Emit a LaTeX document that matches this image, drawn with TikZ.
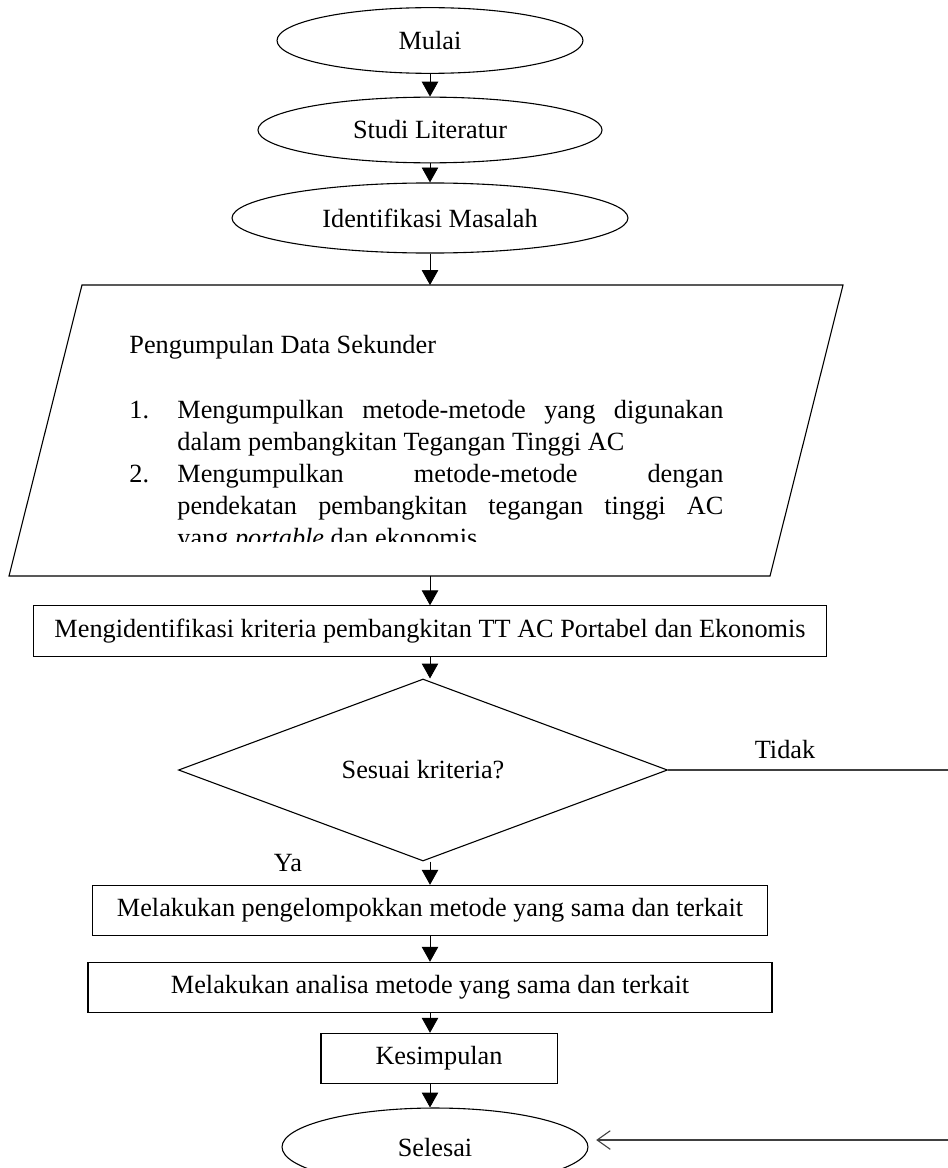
\documentclass[tikz,border=0pt]{standalone}
\usepackage{fontspec}
\setmainfont{Liberation Serif}
\usetikzlibrary{shapes.geometric, arrows.meta, positioning, calc}

\begin{document}
\begin{tikzpicture}[
    x=0.4566pt, y=-0.4566pt,
    font=\fontsize{12}{14.6}\selectfont,
    terminal/.style={draw, ellipse, line width=0.5pt, minimum width=#1, minimum height=30pt, inner sep=2pt},
    proses/.style={draw, rectangle, line width=0.5pt, minimum width=#1, minimum height=23pt, inner sep=2pt},
    arr/.style={-{Triangle[length=6.8pt, width=7.5pt]}, line width=0.4pt}
]
    \useasboundingbox (0,0) rectangle (948,1168);

    \node[terminal=139.7pt] (mulai) at (430,40.5) {Mulai};
    \node[terminal=157.1pt] (studi) at (430,130) {Studi Literatur};
    \node[terminal=180.8pt, minimum height=32pt] (identifikasi) at (430,218) {Identifikasi Masalah};

    % data sekunder (jajar genjang)
    \coordinate (sekunder-nw) at (82,285);
    \coordinate (sekunder-ne) at (843,285);
    \coordinate (sekunder-se) at (770,576);
    \coordinate (sekunder-sw) at (9,576);
    \draw[line width=0.5pt] (sekunder-nw) -- (sekunder-ne) -- (sekunder-se) -- (sekunder-sw) -- cycle;
    \begin{scope}
        \clip (0,285) rectangle (948,541);
        \node[anchor=base west, text width=271.2pt, align=justify, inner sep=0pt] (daftar) at (129,353) {%
            \hyphenpenalty=10000
            Pengumpulan Data Sekunder\par\vspace{15.5pt}
            \hangindent=21.9pt\hangafter=1\makebox[21.9pt][l]{1.}Mengumpulkan metode-metode yang digunakan\linebreak
            dalam pembangkitan Tegangan Tinggi AC\par
            \hangindent=21.9pt\hangafter=1\makebox[21.9pt][l]{2.}Mengumpulkan metode-metode dengan\linebreak
            pendekatan pembangkitan tegangan tinggi AC\linebreak
            yang \textit{portable} dan ekonomis\par};
    \end{scope}

    \node[proses=362.1pt] (kriteria) at (430,631) {Mengidentifikasi kriteria pembangkitan TT AC Portabel dan Ekonomis};
    \node[draw, diamond, aspect=2.69, minimum width=223.3pt, minimum height=83.1pt,
          inner sep=1pt, line width=0.5pt] (sesuai) at (423,770) {Sesuai kriteria?};
    \node[proses=308.2pt] (kelompok) at (430,910.5) {Melakukan pengelompokkan metode yang sama dan terkait};
    \node[proses=312.3pt] (analisa) at (430,987.5) {Melakukan analisa metode yang sama dan terkait};
    \node[proses=107.8pt] (kesimpulan) at (439,1058.5) {Kesimpulan};
    \node[terminal=139.7pt, minimum height=35.6pt] (selesai) at (435,1147) {Selesai};

    \node (tidak) at (785,750) {Tidak};
    \node (ya) at (288,863) {Ya};
    \coordinate (kanan) at (948,768);
    \coordinate (balik) at (948,1140);

    \draw[arr] (mulai) -- (studi);
    \draw[arr] (studi) -- (identifikasi);
    \draw[arr] (identifikasi.south) -- (identifikasi.south |- sekunder-nw);
    \draw[arr] (kriteria.north |- sekunder-sw) -- (kriteria.north);
    \draw[arr] (kriteria.south) -- (kriteria.south |- sesuai.north);
    \draw[arr] (kelompok.north |- sesuai.south) -- (kelompok.north);
    \draw[arr] (kelompok) -- (analisa);
    \draw[arr] (analisa.south) -- (analisa.south |- kesimpulan.north);
    \draw[arr] (analisa.south |- kesimpulan.south) -- (analisa.south |- selesai.north);
    \draw[line width=0.7pt, black!75] (sesuai.east) -- (sesuai.east -| kanan);
    \draw[-{Straight Barb[length=6pt, width=8.5pt]}, line width=0.5pt, black!75, shorten >=3.5pt]
        (balik) -- (balik -| selesai.east);
\end{tikzpicture}
\end{document}
